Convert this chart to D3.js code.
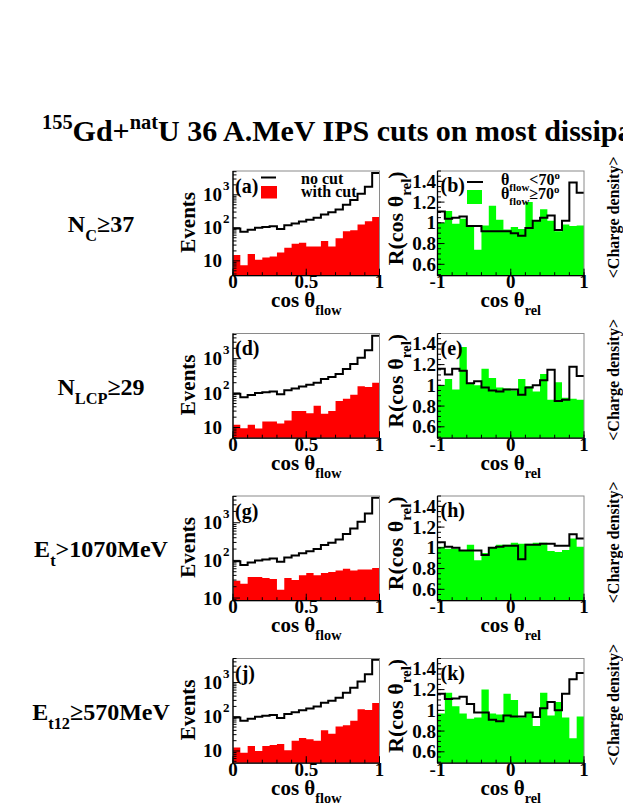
<!DOCTYPE html>
<html><head><meta charset="utf-8">
<script src="https://cdn.jsdelivr.net/npm/d3@7"></script>
<style>
body{margin:0;background:#fff;}
svg{display:block;}
text{font-family:"Liberation Serif","Times New Roman",Times,serif;font-weight:bold;fill:#000;}
</style>
</head><body><svg id="c" width="623" height="806"></svg>
<script>
// ---------------- DATA ----------------
const flowDomain = [0, 1];
const relDomain = [-1, 1];
const nBins = 20;
const flowTickLabels = [0, 0.5, 1];
const relTickLabels = [-1, 0, 1];
const ratioTickLabels = [0.6, 0.8, 1, 1.2, 1.4];
const ratioDomain = [0.49, 1.5];
const panelLetters = [["(a)", "(b)"], ["(d)", "(e)"], ["(g)", "(h)"], ["(j)", "(k)"]];
const cutLabels = [
  [["N", "n"], ["C", "sub"], ["≥37", "n"]],
  [["N", "n"], ["LCP", "sub"], ["≥29", "n"]],
  [["E", "n"], ["t", "sub"], [">1070MeV", "n"]],
  [["E", "n"], ["t12", "sub"], ["≥570MeV", "n"]]
];
const logDomains = [[3.55, 5250], [4.9, 5370], [8.5, 5130], [4.4, 5010]];
const legendFlow = ["no cut", "with cut"];

// events vs cos(theta_flow), "no cut" (same sample in every row)
const noCut = [95, 76, 88, 100, 106, 112, 92, 120, 135, 155, 175, 200, 255, 295, 360, 500, 700, 1070, 1750, 4600];
// events with cut
const withCutA = [15, 7.4, 16, 10.7, 12.6, 13.5, 18, 25, 33, 35, 27, 27, 40, 27, 48, 79, 85, 126, 158, 214];
const withCutD = [12, 9.5, 12, 9.3, 15, 15, 13, 16, 30, 30, 26, 43, 25, 30, 59, 68, 89, 158, 151, 200];
const withCutG = [29, 24, 36, 36, 34, 32, 16.5, 34, 30, 40, 46, 40, 46, 49, 54, 60, 54, 57, 57, 63];
const withCutJ = [12.6, 8.9, 14, 10, 14, 15, 16, 10.5, 20, 24, 22, 20, 40, 32, 52, 56, 76, 166, 158, 251];

// R(cos theta_rel): theta_flow < 70 (black line) and >= 70 (green fill)
const ratioLtB = [1.11, 1.04, 1.05, 1.06, 0.97, 0.97, 0.92, 0.92, 0.92, 0.92, 0.90, 0.875, 0.95, 1.02, 1.05, 1.07, 0.93, 1.02, 1.39, 1.29];
const ratioGeB = [1.0, 1.115, 0.99, 1.04, 0.97, 0.74, 0.975, 1.165, 1.03, 0.935, 0.96, 0.94, 1.2, 1.02, 1.13, 1.02, 0.92, 0.985, 0.97, 0.975];
const ratioLtE = [1.16, 1.105, 1.16, 1.14, 1.02, 1.04, 0.98, 0.95, 0.94, 0.96, 0.96, 0.91, 0.98, 1.0, 1.05, 1.15, 0.85, 0.86, 1.18, 1.09];
const ratioGeE = [1.0, 1.06, 0.96, 1.37, 1.02, 1.0, 1.16, 1.07, 0.98, 0.97, 0.95, 1.06, 0.99, 0.94, 1.11, 0.86, 1.03, 0.88, 0.87, 0.86];
const ratioLtH = [1.055, 1.01, 1.0, 0.975, 0.975, 0.975, 0.93, 1.0, 1.01, 1.02, 1.02, 0.89, 1.03, 1.03, 1.04, 1.04, 1.02, 1.02, 1.13, 1.09];
const ratioGeH = [1.01, 0.99, 0.99, 0.975, 1.03, 0.88, 0.95, 1.0, 1.03, 1.03, 1.05, 1.04, 1.04, 1.05, 1.05, 0.97, 0.96, 0.98, 1.09, 1.01];
const ratioLtK = [1.16, 1.11, 1.115, 1.13, 1.06, 0.98, 0.98, 0.91, 0.895, 0.95, 0.94, 0.94, 0.98, 0.935, 1.02, 1.08, 1.0, 1.16, 1.3, 1.36];
const ratioGeK = [0.97, 1.17, 1.04, 0.97, 0.92, 0.93, 1.2, 0.97, 0.96, 1.16, 1.1, 0.93, 0.98, 0.85, 1.17, 0.95, 1.08, 0.93, 0.73, 0.94];

const withCuts = [withCutA, withCutD, withCutG, withCutJ];
const ratioLt = [ratioLtB, ratioLtE, ratioLtH, ratioLtK];
const ratioGe = [ratioGeB, ratioGeE, ratioGeH, ratioGeK];

// ---------------- LAYOUT ----------------
const svg = d3.select("#c");
const LP = {x0: 233, x1: 379.5};
const RP = {x0: 437.5, x1: 584};
const rowTops = [171, 333.5, 496, 658.5];
const H = 104.7;

function rich(parent, x, y, parts, size, anchor, rotate) {
  const t = parent.append("text").attr("x", x).attr("y", y)
    .attr("font-size", size).attr("text-anchor", anchor || "start");
  if (rotate) t.attr("transform", `rotate(${rotate},${x},${y})`);
  let cur = 0;
  parts.forEach(([s, m]) => {
    let off = 0, fs = size;
    if (m === "sub") { off = size * 0.38; fs = size * 0.68; }
    if (m === "sup") { off = -size * 0.40; fs = size * 0.68; }
    t.append("tspan").attr("dy", off - cur).attr("font-size", fs).text(s);
    cur = off;
  });
  return t;
}

const edges = (dom) => d3.range(nBins + 1).map(k => dom[0] + (dom[1] - dom[0]) * k / nBins);
const stepPts = (vals, e) => vals.map((v, k) => [e[k], v]).concat([[e[vals.length], vals[vals.length - 1]]]);
const flowEdges = edges(flowDomain);
const relEdges = edges(relDomain);

// title
rich(svg, 42, 141, [["155", "sup"], ["Gd+", "n"], ["nat", "sup"], ["U 36 A.MeV IPS cuts on most dissipative collisions", "n"]], 30, "start");

function xAxis(top, bot, x, majors, minors, fmt) {
  const g = svg.append("g");
  g.selectAll("line.mi").data(minors).join("line")
    .attr("x1", d => x(d)).attr("x2", d => x(d)).attr("y1", bot).attr("y2", bot - 3.5)
    .attr("stroke", "#000").attr("stroke-width", 1);
  g.selectAll("line.ma").data(majors).join("line")
    .attr("x1", d => x(d)).attr("x2", d => x(d)).attr("y1", bot).attr("y2", bot - 7)
    .attr("stroke", "#000").attr("stroke-width", 1);
  g.selectAll("text").data(majors).join("text")
    .attr("x", d => x(d)).attr("y", bot + 12.5).attr("text-anchor", "middle")
    .attr("font-size", 19).text(fmt);
}

rowTops.forEach((top, i) => {
  const bot = top + H;
  const mid = (top + bot) / 2;
  // row label
  rich(svg, 101, mid + 9, cutLabels[i], 24, "middle");

  // ---------- left panel ----------
  const x = d3.scaleLinear().domain(flowDomain).range([LP.x0, LP.x1]);
  const y = d3.scaleLog().domain(logDomains[i]).range([bot, top]);
  const cl = "clipL" + i;
  svg.append("clipPath").attr("id", cl).append("rect")
    .attr("x", LP.x0).attr("y", top).attr("width", LP.x1 - LP.x0).attr("height", H);
  const gl = svg.append("g").attr("clip-path", `url(#${cl})`);
  gl.append("path").datum(stepPts(withCuts[i], flowEdges))
    .attr("fill", "#ff0000")
    .attr("d", d3.area().curve(d3.curveStepAfter).x(d => x(d[0])).y0(bot).y1(d => y(d[1])));
  gl.append("path").datum(stepPts(noCut, flowEdges))
    .attr("fill", "none").attr("stroke", "#000").attr("stroke-width", 2)
    .attr("d", d3.line().curve(d3.curveStepAfter).x(d => x(d[0])).y(d => y(d[1])));
  // frame
  svg.append("rect").attr("x", LP.x0).attr("y", top).attr("width", LP.x1 - LP.x0).attr("height", H)
    .attr("fill", "none").attr("stroke", "#8a8a8a").attr("stroke-width", 1);
  // x axis
  xAxis(top, bot, x, flowTickLabels, d3.range(0, 1.0001, 0.1), d => d3.format("~g")(d));
  // log y axis
  const [lo, hi] = logDomains[i];
  const minorsL = [], majorsL = [];
  for (let e = 0; e <= 4; e++) for (let m = 1; m <= 9; m++) {
    const v = m * Math.pow(10, e);
    if (v >= lo && v <= hi) (m === 1 ? majorsL : minorsL).push(v);
  }
  svg.selectAll(null).data(minorsL).join("line")
    .attr("x1", LP.x0).attr("x2", LP.x0 + 3.5).attr("y1", d => y(d)).attr("y2", d => y(d))
    .attr("stroke", "#000").attr("stroke-width", 1);
  svg.selectAll(null).data(majorsL).join("line")
    .attr("x1", LP.x0).attr("x2", LP.x0 + 7).attr("y1", d => y(d)).attr("y2", d => y(d))
    .attr("stroke", "#000").attr("stroke-width", 1);
  majorsL.forEach(v => {
    const ex = Math.round(Math.log10(v));
    svg.append("text").attr("x", LP.x0 - 11).attr("y", y(v) + 6.5).attr("text-anchor", "end")
      .attr("font-size", 19).text("10");
    if (ex > 1) svg.append("text").attr("x", LP.x0 - 10).attr("y", y(v) - 4.5)
      .attr("font-size", 13).text(ex);
  });
  // axis lines
  svg.append("line").attr("x1", LP.x0).attr("x2", LP.x0).attr("y1", top).attr("y2", bot).attr("stroke", "#000").attr("stroke-width", 1.3);
  svg.append("line").attr("x1", LP.x0).attr("x2", LP.x1).attr("y1", bot).attr("y2", bot).attr("stroke", "#000").attr("stroke-width", 1.3);
  // titles
  rich(svg, (LP.x0 + LP.x1) / 2, bot + 31.5, [["cos θ", "n"], ["flow", "sub"]], 21, "middle");
  rich(svg, 195, mid - 1, [["Events", "n"]], 21, "middle", -90);
  svg.append("text").attr("x", LP.x0 + 2).attr("y", top + 21.5).attr("font-size", 20).text(panelLetters[i][0]);

  // ---------- right panel ----------
  const xr = d3.scaleLinear().domain(relDomain).range([RP.x0, RP.x1]);
  const yr = d3.scaleLinear().domain(ratioDomain).range([bot, top]);
  const cr = "clipR" + i;
  svg.append("clipPath").attr("id", cr).append("rect")
    .attr("x", RP.x0).attr("y", top).attr("width", RP.x1 - RP.x0).attr("height", H);
  const gr = svg.append("g").attr("clip-path", `url(#${cr})`);
  gr.append("path").datum(stepPts(ratioGe[i], relEdges))
    .attr("fill", "#00ff00")
    .attr("d", d3.area().curve(d3.curveStepAfter).x(d => xr(d[0])).y0(bot).y1(d => yr(d[1])));
  gr.append("path").datum(stepPts(ratioLt[i], relEdges))
    .attr("fill", "none").attr("stroke", "#000").attr("stroke-width", 2)
    .attr("d", d3.line().curve(d3.curveStepAfter).x(d => xr(d[0])).y(d => yr(d[1])));
  svg.append("rect").attr("x", RP.x0).attr("y", top).attr("width", RP.x1 - RP.x0).attr("height", H)
    .attr("fill", "none").attr("stroke", "#8a8a8a").attr("stroke-width", 1);
  xAxis(top, bot, xr, relTickLabels, d3.range(-1, 1.0001, 0.2), d => d3.format("~g")(d).replace("−", "-"));
  const rMinor = d3.range(0.5, 1.5001, 0.05);
  svg.selectAll(null).data(rMinor).join("line")
    .attr("x1", RP.x0).attr("x2", RP.x0 + 3.5).attr("y1", d => yr(d)).attr("y2", d => yr(d))
    .attr("stroke", "#000").attr("stroke-width", 1);
  svg.selectAll(null).data(ratioTickLabels).join("line")
    .attr("x1", RP.x0).attr("x2", RP.x0 + 7).attr("y1", d => yr(d)).attr("y2", d => yr(d))
    .attr("stroke", "#000").attr("stroke-width", 1);
  svg.selectAll(null).data(ratioTickLabels).join("text")
    .attr("x", RP.x0 - 1.5).attr("y", d => yr(d) + 6.5).attr("text-anchor", "end")
    .attr("font-size", 19).text(d => d3.format("~g")(d));
  svg.append("line").attr("x1", RP.x0).attr("x2", RP.x0).attr("y1", top).attr("y2", bot).attr("stroke", "#000").attr("stroke-width", 1.3);
  svg.append("line").attr("x1", RP.x0).attr("x2", RP.x1).attr("y1", bot).attr("y2", bot).attr("stroke", "#000").attr("stroke-width", 1.3);
  rich(svg, (RP.x0 + RP.x1) / 2, bot + 31.5, [["cos θ", "n"], ["rel", "sub"]], 21, "middle");
  rich(svg, 403, mid - 5, [["R(cos θ", "n"], ["rel", "sub"], [")", "n"]], 22, "middle", -90);
  svg.append("text").attr("x", RP.x0 + 3).attr("y", top + 21).attr("font-size", 20).text(panelLetters[i][1]);

  // third column (off-page) axis title
  rich(svg, 619, mid - 6, [["<Charge density>", "n"]], 16, "middle", -90);
});

// legend (a)
{
  const top = rowTops[0];
  svg.append("line").attr("x1", 261).attr("x2", 276).attr("y1", top + 6.5).attr("y2", top + 6.5)
    .attr("stroke", "#000").attr("stroke-width", 2);
  svg.append("rect").attr("x", 261).attr("y", top + 15).attr("width", 16).attr("height", 12.5).attr("fill", "#ff0000");
  svg.append("text").attr("x", 301).attr("y", top + 13).attr("font-size", 16).text(legendFlow[0]);
  svg.append("text").attr("x", 301).attr("y", top + 26).attr("font-size", 16).text(legendFlow[1]);
}
// legend (b)
{
  const top = rowTops[0];
  svg.append("line").attr("x1", 467).attr("x2", 483).attr("y1", top + 11).attr("y2", top + 11)
    .attr("stroke", "#000").attr("stroke-width", 2);
  svg.append("rect").attr("x", 467).attr("y", top + 19).attr("width", 15).attr("height", 14).attr("fill", "#00ff00");
  rich(svg, 501, top + 14, [["θ", "n"], ["flow", "sub"], ["<70", "n"], ["o", "sup"]], 16, "start");
  rich(svg, 501, top + 28, [["θ", "n"], ["flow", "sub"], ["≥70", "n"], ["o", "sup"]], 16, "start");
}
</script>
</body></html>
